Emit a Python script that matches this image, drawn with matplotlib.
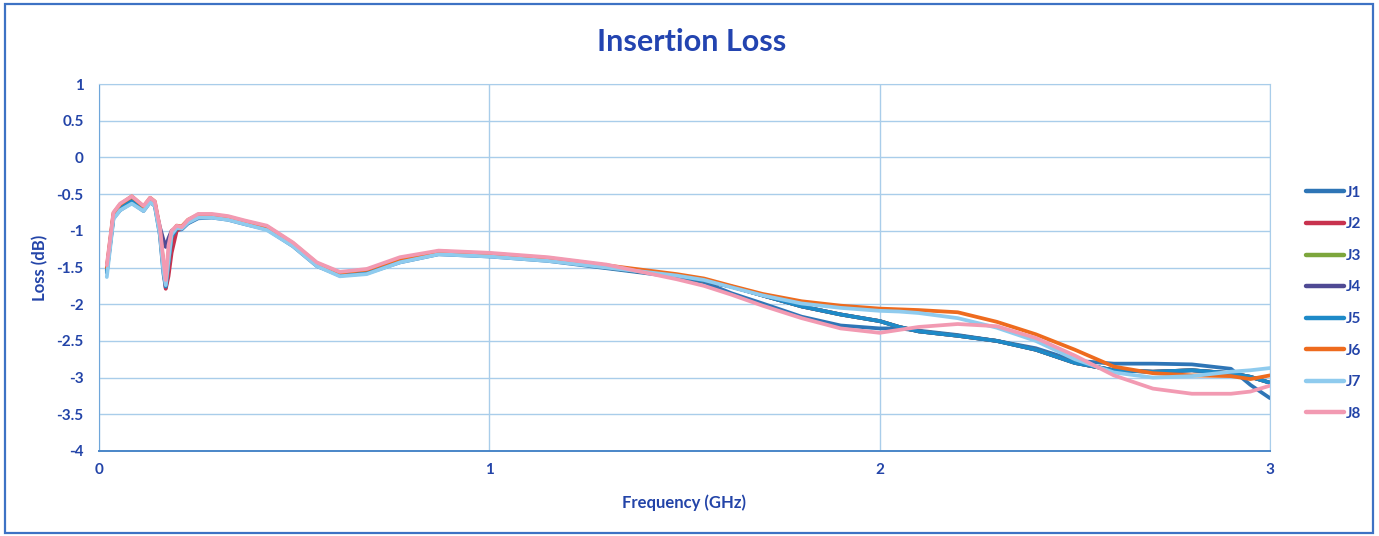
import matplotlib
matplotlib.use("Agg")
import matplotlib.pyplot as plt
from matplotlib.patches import Rectangle

plt.rcParams["font.family"] = ["Lato", "DejaVu Sans"]

# Frequency points (GHz) shared by all traces
FREQ = [0.02, 0.037, 0.054, 0.084, 0.114, 0.131, 0.143, 0.156, 0.165, 0.171,
        0.178, 0.186, 0.199, 0.212, 0.228, 0.254, 0.289, 0.331, 0.374, 0.43,
        0.497, 0.558, 0.617, 0.686, 0.771, 0.87, 1.0, 1.15, 1.3,
        1.48, 1.55, 1.62, 1.7, 1.8, 1.9, 2.0, 2.05, 2.1, 2.2,
        2.3, 2.4, 2.5, 2.6, 2.7, 2.8, 2.9, 2.95, 3.0]

# Loss (dB) per trace
J1 = [-1.57, -0.83, -0.72, -0.62, -0.73, -0.61, -0.66, -1.06, -1.58, -1.78,
      -1.55, -1.15, -0.99, -0.98, -0.90, -0.83, -0.82, -0.85, -0.91, -0.98,
      -1.21, -1.48, -1.61, -1.58, -1.43, -1.32, -1.35, -1.41, -1.51,
      -1.63, -1.70, -1.85, -1.99, -2.17, -2.29, -2.33, -2.33, -2.36, -2.42,
      -2.50, -2.60, -2.77, -2.81, -2.81, -2.82, -2.88, -3.10, -3.28]
J2 = [-1.52, -0.78, -0.67, -0.57, -0.69, -0.57, -0.62, -1.00, -1.50, -1.79,
      -1.62, -1.30, -1.00, -0.96, -0.87, -0.80, -0.79, -0.82, -0.88, -0.95,
      -1.18, -1.45, -1.58, -1.55, -1.40, -1.30, -1.33, -1.39, -1.49,
      -1.62, -1.68, -1.76, -1.88, -2.03, -2.14, -2.23, -2.31, -2.37, -2.43,
      -2.50, -2.62, -2.80, -2.90, -2.92, -2.90, -2.94, -2.99, -3.07]
J3 = [-1.54, -0.80, -0.69, -0.59, -0.70, -0.58, -0.63, -1.00, -1.48, -1.70,
      -1.40, -1.06, -0.97, -0.96, -0.88, -0.81, -0.80, -0.83, -0.89, -0.96,
      -1.19, -1.46, -1.59, -1.56, -1.41, -1.31, -1.34, -1.40, -1.50,
      -1.62, -1.68, -1.76, -1.88, -2.03, -2.14, -2.23, -2.31, -2.37, -2.43,
      -2.50, -2.62, -2.80, -2.90, -2.92, -2.90, -2.94, -2.99, -3.07]
J4 = [-1.54, -0.80, -0.69, -0.60, -0.71, -0.59, -0.64, -0.95, -1.12, -1.22,
      -1.10, -1.00, -0.96, -0.96, -0.88, -0.81, -0.80, -0.83, -0.89, -0.96,
      -1.19, -1.46, -1.59, -1.56, -1.41, -1.31, -1.34, -1.40, -1.50,
      -1.62, -1.68, -1.76, -1.88, -2.03, -2.14, -2.23, -2.31, -2.37, -2.43,
      -2.50, -2.62, -2.80, -2.90, -2.92, -2.90, -2.94, -2.99, -3.07]
J5 = [-1.55, -0.80, -0.69, -0.60, -0.71, -0.59, -0.64, -1.02, -1.52, -1.76,
      -1.45, -1.08, -0.97, -0.96, -0.88, -0.81, -0.80, -0.83, -0.89, -0.96,
      -1.19, -1.46, -1.59, -1.56, -1.41, -1.31, -1.34, -1.40, -1.50,
      -1.62, -1.68, -1.76, -1.88, -2.03, -2.14, -2.23, -2.31, -2.37, -2.43,
      -2.50, -2.62, -2.80, -2.90, -2.92, -2.90, -2.94, -2.99, -3.07]
J6 = [-1.50, -0.76, -0.64, -0.53, -0.67, -0.55, -0.60, -0.98, -1.45, -1.70,
      -1.35, -1.02, -0.93, -0.94, -0.85, -0.78, -0.78, -0.81, -0.87, -0.94,
      -1.17, -1.44, -1.57, -1.53, -1.38, -1.28, -1.31, -1.37, -1.47,
      -1.59, -1.65, -1.75, -1.86, -1.96, -2.02, -2.06, -2.07, -2.08, -2.11,
      -2.24, -2.41, -2.62, -2.85, -2.94, -2.97, -2.98, -3.02, -2.97]
J7 = [-1.63, -0.84, -0.72, -0.63, -0.73, -0.61, -0.66, -1.05, -1.55, -1.74,
      -1.40, -1.05, -0.96, -0.97, -0.89, -0.82, -0.82, -0.85, -0.91, -0.99,
      -1.21, -1.48, -1.62, -1.59, -1.43, -1.32, -1.35, -1.41, -1.50,
      -1.61, -1.67, -1.77, -1.88, -1.99, -2.05, -2.09, -2.10, -2.12, -2.19,
      -2.32, -2.50, -2.75, -2.93, -3.00, -2.98, -2.92, -2.90, -2.87]
J8 = [-1.47, -0.75, -0.63, -0.53, -0.66, -0.55, -0.60, -0.95, -1.40, -1.67,
      -1.20, -1.00, -0.93, -0.95, -0.85, -0.77, -0.77, -0.80, -0.86, -0.93,
      -1.16, -1.43, -1.56, -1.52, -1.36, -1.27, -1.30, -1.36, -1.46,
      -1.66, -1.75, -1.87, -2.02, -2.19, -2.33, -2.39, -2.35, -2.31, -2.27,
      -2.30, -2.46, -2.70, -2.97, -3.15, -3.22, -3.22, -3.19, -3.11]

SERIES = ["J1", "J2", "J3", "J4", "J5", "J6", "J7", "J8"]
VALUES = [J1, J2, J3, J4, J5, J6, J7, J8]
COLORS = ["#2E75B6", "#C8324E", "#7DA63C", "#4F4A94", "#1E8AC8",
          "#EE6B1E", "#8FCBEE", "#F29AB2"]

TEXT_BLUE = "#2344A8"
GRID_BLUE = "#A9CDEA"


def main() -> None:
    fig = plt.figure(figsize=(13.79, 5.36), dpi=100)
    ax = fig.add_axes([99 / 1379, 1 - 451 / 536, (1270 - 99) / 1379, (451 - 84) / 536])

    lines = []
    for name, vals, color in zip(SERIES, VALUES, COLORS):
        (ln,) = ax.plot(FREQ, vals, color=color, lw=2.7, label=name,
                        solid_capstyle="round", solid_joinstyle="round")
        lines.append(ln)

    ax.set_xlim(0, 3)
    ax.set_ylim(-4, 1)
    ax.set_xticks([0, 1, 2, 3])
    ax.set_yticks([1, 0.5, 0, -0.5, -1, -1.5, -2, -2.5, -3, -3.5, -4])
    ax.set_yticklabels(["1", "0.5", "0", "-0.5", "-1", "-1.5", "-2", "-2.5",
                        "-3", "-3.5", "-4"])
    ax.grid(True, color=GRID_BLUE, lw=1.0)
    ax.set_axisbelow(True)
    ax.tick_params(length=0, labelsize=11, labelcolor=TEXT_BLUE)
    ax.tick_params(axis="x", pad=9)
    ax.tick_params(axis="y", pad=11)
    for lab in ax.get_xticklabels() + ax.get_yticklabels():
        lab.set_fontweight("bold")

    for side in ["top", "right"]:
        ax.spines[side].set_color(GRID_BLUE)
    ax.spines["left"].set_color("#6FA6DA")
    ax.spines["bottom"].set_color("#4A86C8")
    ax.spines["bottom"].set_linewidth(1.4)

    ax.set_xlabel("Frequency (GHz)", fontsize=12, fontweight="bold", color=TEXT_BLUE)
    ax.set_ylabel("Loss (dB)", fontsize=12, fontweight="bold", color=TEXT_BLUE)
    ax.xaxis.set_label_coords(0.5, (451 - 494) / 367)
    ax.yaxis.set_label_coords((48 - 99) / 1171, 0.5)

    fig.text(692 / 1379, 1 - 42 / 536, "Insertion Loss", ha="center", va="center",
             fontsize=22, fontweight="bold", color="#2344B0")

    leg = fig.legend(handles=lines, loc="upper left",
                     bbox_to_anchor=(1292 / 1379, 1 - 172 / 536),
                     frameon=False, fontsize=11, labelspacing=1.15,
                     handlelength=2.5, handletextpad=0.15)
    for txt in leg.get_texts():
        txt.set_color(TEXT_BLUE)
        txt.set_fontweight("bold")
    for h in leg.legend_handles:
        h.set_linewidth(3.2)

    fig.patches.append(Rectangle((5 / 1379, 3 / 536), 1368 / 1379, 529 / 536,
                                 transform=fig.transFigure, fill=False,
                                 edgecolor="#3D72C4", lw=1.6))

    fig.savefig("out.png", dpi=100)
    plt.close(fig)


if __name__ == "__main__":
    main()
